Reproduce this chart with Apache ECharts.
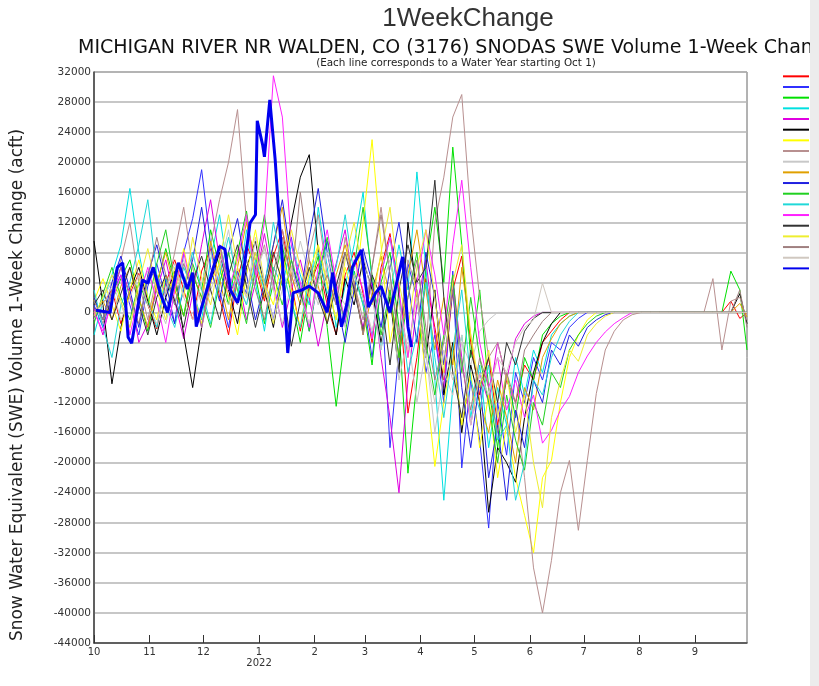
<!DOCTYPE html>
<html><head><meta charset="utf-8">
<script src="https://cdn.jsdelivr.net/npm/echarts@6/dist/echarts.min.js"></script>
<style>html,body{margin:0;padding:0;background:#fff;overflow:hidden}#c{width:819px;height:686px}</style>
</head><body><div id="c"></div><script>
// day offsets from Oct 1 of the water year
const days = [0,5,10,15,20,25,30,35,40,45,50,55,60,65,70,75,80,85,90,95,100,105,110,115,120,125,130,135,140,145,150,155,160,165,170,175,180,185,190,195,200,205,210,215,220,225,230,235,240,245,250,255,260,265,270,275,280,285,290,295,300,305,310,315,320,325,330,335,340,345,350,355,360,364];

const wy2004 = [0,1200,3000,-1500,2500,5200,1000,-2200,4000,7000, 3000,-1000,5500,8500,2000,-3000,4500,9000,6000,1500, 7500,11000,4000,-2500,3500,6500,1000,-3000,5000,8000, 2500,-4000,6000,10500,3000,-13400,-6000,4500,-2000,-9000, 3000,7500,-4000,-11000,-6000,-15000,-9000,-12000,-7000,-9000, -4000,-2500,-1000,0,0,0,0,0,0,0, 0,0,0,0,0,0,0,0,0,0, 0,1500,-800,0];
const wy2005 = [1000,-2000,2500,5000,1000,-3000,3500,6500,2000,-1500, 8000,12500,19000,9000,3000,-2000,5500,2500,8000,4000, -1000,6000,10000,3000,-2500,4500,9500,3000,-1500,5000, 2000,-6000,3500,-18000,-5000,6500,2000,-8000,-3000,-12000, 5500,-20700,-9000,-17000,-28700,-12000,-19000,-8000,-12000,-6000, -9000,-4000,-5000,-2000,-800,0,0,0,0,0, 0,0,0,0,0,0,0,0,0,0, 0,0,0,0];
const wy2006 = [2000,-1000,1500,4500,7000,2000,-2500,3500,8500,4000, -500,6500,3000,11000,6000,1000,8000,13500,5000,-1500, 4000,9000,2000,-4000,3000,7500,-2000,-12500,-3000,5500, 1000,-7000,4000,8000,-2000,-21400,-9000,6000,14000,4000, 22000,9000,-6000,3000,-10000,-18000,-8000,-14000,-6000,-9000, -3000,-1500,-500,0,0,0,0,0,0,0, 0,0,0,0,0,0,0,0,0,0, 0,5500,3000,-5000];
const wy2007 = [-3000,1500,5000,9000,16500,8000,2000,-2000,4500,1000, 6000,3000,-1000,7000,13000,5000,2000,11000,4000,-2500, 6000,3500,9000,5000,1000,14000,6000,-2000,3500,9000, 16000,4000,-5000,2500,9000,3000,18700,6000,-9000,-25000, -10000,-3000,-14000,-7000,-18000,-10000,-15000,-6000,-11000,-5000, -8000,-3000,-1500,-500,0,0,0,0,0,0, 0,0,0,0,0,0,0,0,0,0, 0,0,0,0];
const wy2008 = [500,-3000,2000,6000,2500,-4000,-1500,3000,7000,1500, -3500,2500,9000,15000,7000,2000,5000,-1000,4000,10500, 4000,-2000,3000,7000,2000,-4500,1500,6500,11000,3000, -2000,4000,-6000,-14000,-24000,-9000,1000,7000,-3000,-10000, 4500,-6000,-15000,-8000,-12000,-4000,-9000,-3500,-1500,-500, 0,0,0,0,0,0,0,0,0,0, 0,0,0,0,0,0,0,0,0,0, 0,0,0,0];
const wy2009 = [9500,1000,-9500,-2000,3000,6000,1500,-3000,2000,5500, -3000,-10000,-2000,4000,8000,3000,-1500,6000,9500,3000, -2000,5000,12000,18000,21000,8000,2000,-3000,4500,1000, 7000,3000,-4000,2000,-8000,12000,2500,-6000,3000,-11000, -4000,-16000,-7000,-12000,-26600,-18000,-20000,-22600,-14000,-8000, -4000,-1500,0,0,0,0,0,0,0,0, 0,0,0,0,0,0,0,0,0,0, 0,0,2500,-1500];
const wy2010 = [1500,4500,1000,-2500,3000,7000,2000,-1000,5000,2500, 8500,3000,-1500,4000,6500,2000,-3000,5000,11000,4000, 1000,7500,3000,-2000,5500,9000,3500,-1000,6000,2000, 12000,23000,9000,-4000,2000,-6000,3000,-9000,-20500,-12000, -5000,-15000,-8000,-18000,-11000,-22000,-15000,-22000,-27000,-32000, -22000,-19700,-12000,-6000,-3000,-1000,0,0,0,0, 0,0,0,0,0,0,0,0,0,0, 0,0,0,0];
const wy2011 = [2000,-1500,3000,7000,12000,4000,-1000,5000,2500,8000, 14000,6000,1000,9000,15000,20000,27000,12000,5000,9000, 3000,11000,6000,2000,8000,13000,5000,1000,10000,4000, -1000,6000,14000,5000,-3000,7000,3000,-5000,12000,18000, 26000,29000,13000,2000,-6000,-4000,-9000,-12000,-22000,-34000, -40000,-33000,-24000,-19700,-29000,-19700,-10800,-5000,-2500,-1000, -300,0,0,0,0,0,0,0,0,4500, -5000,1500,2000,-1000];
const wy2012 = [-1000,2000,4000,1000,-2000,3000,5500,1500,-1500,3500, 7000,2000,-2000,3000,6000,11000,4000,1000,5000,8500, 3000,-1500,4000,9500,5000,1000,6500,3000,-2000,4500, 8000,2000,-5000,4000,-9000,-3000,-12000,-5000,-16000,-8000, -11000,-4000,-7000,-2500,-1000,0,0,0,0,0, 0,0,0,0,0,0,0,0,0,0, 0,0,0,0,0,0,0,0,0,0, 0,0,0,0];
const wy2013 = [0,1500,-1000,3500,6000,2000,-2000,4000,8000,3000, -500,5000,2000,9500,4500,-1000,6000,12000,7000,2000, 9000,14000,5000,1000,7000,3500,-1500,5000,9000,4000, -3000,2500,7500,2000,-6000,5000,11000,3000,-5000,2000, -7000,6000,-3000,-12000,-16000,-9000,-14000,-20000,-10000,-13000, -6000,-3500,-1500,-500,0,0,0,0,0,0, 0,0,0,0,0,0,0,0,0,0, 0,0,1200,-600];
const wy2014 = [2000,-1000,4000,7500,3000,-2000,5000,9000,4000,-1500, 3000,7000,14000,6000,1500,8000,12500,5000,-1000,4000, 9000,15000,7000,2000,10000,16500,8000,2000,-4000,3000, 8500,4000,-2000,6000,12000,4000,-4000,8000,2000,-7000, 3000,-10000,-18000,-9000,-22000,-15000,-25000,-13000,-18000,-9000, -12000,-5000,-7000,-3000,-4500,-2000,-1000,-300,0,0, 0,0,0,0,0,0,0,0,0,0, 0,0,0,0];
const wy2015 = [-1500,2500,6000,2000,-1000,4000,1000,6500,11000,4000, -500,5000,2000,-2000,4000,8000,3000,-1500,6000,13000, 5000,1000,7000,3000,-2500,5000,10000,3000,-1000,6000, 14000,5000,-3000,3000,-6000,2000,8000,-4000,-11000,-3000, 5000,-8000,2000,-6000,-12000,-20000,-11000,-17000,-21000,-12000, -15000,-8000,-10000,-5000,-3000,-1500,-500,0,0,0, 0,0,0,0,0,0,0,0,0,0, 0,0,0,0];
const wy2016 = [3000,-2000,-6000,1000,4000,9000,15000,5000,1000,-2000, 3500,8000,3000,-1500,5000,10000,4000,1000,7000,3000, 12000,6000,1000,-2000,4500,8000,2500,6000,13000,5000, 1000,-3000,5000,10000,2000,-8000,-3000,4000,-6000,-14000, -5000,3000,-9000,-13000,-7000,-17000,-15000,-25000,-20000,-9000, -11000,-6000,-3000,-1200,0,0,0,0,0,0, 0,0,0,0,0,0,0,0,0,0, 0,0,0,0];
const wy2017 = [0,-2500,1500,5000,-3000,2000,6000,1500,-4000,3000, 8000,2500,-2000,4500,9000,3000,7000,13000,5000,12000, 31500,26000,9000,4000,-2000,6000,11000,4000,-1000,7000, 3000,-3500,5000,10000,3000,-6000,4000,11000,5000,-3000, 9000,17600,6000,-4000,-10000,-6000,-13000,-9000,-14000,-11000, -17400,-15700,-13000,-11200,-8000,-5800,-4000,-2600,-1500,-700, 0,0,0,0,0,0,0,0,0,0, 0,0,0,0];
const wy2018 = [1000,3000,-1000,2500,6000,1000,-3000,2000,5000,1500, -2000,4000,7500,3000,-1000,5000,9000,3500,-2000,3000, 8000,4000,-4500,1500,6000,2000,-1500,3500,8000,3000, -2500,5000,2000,-7000,3000,9000,4000,6000,17600,2000, -8000,-14000,-5000,-10000,-6000,-12000,-4000,-7000,-2500,-800, 0,0,0,0,0,0,0,0,0,0, 0,0,0,0,0,0,0,0,0,0, 0,0,0,0];
const wy2019 = [-500,2000,5000,1500,-2000,4000,8500,3000,-1000,6000, 2000,10000,4500,1000,7000,13000,6000,2000,8000,3500, -1500,5000,11000,6000,2000,9000,4000,-1000,7000,12000, 5000,1000,8000,14000,4000,-2000,6000,11000,2000,-8000, 4000,9000,-3000,-10000,-5000,-14000,-8000,-16000,-11000,-20000, -26000,-14000,-9000,-5000,-6500,-3000,-1500,-500,0,0, 0,0,0,0,0,0,0,0,0,0, 0,0,0,0];
const wy2020 = [1500,-1000,3000,6000,2000,-1500,4500,10000,5000,1000, 6500,3000,-2000,5000,9000,4000,1000,7000,3000,-1000, 5500,10000,4000,16000,7000,2000,5000,1000,8000,4000, -3000,6000,13000,5000,-4000,2000,7000,-2000,-9000,-4000, 3000,-7000,-13000,-6000,-10000,-16000,-8000,-12000,-5000,-3000, -1200,0,0,0,0,0,0,0,0,0, 0,0,0,0,0,0,0,0,0,0, 0,0,3000,-2000];
const wy2021 = [0,1000,3500,-1000,2000,5000,1000,-1500,3000,6500, 2000,-1000,4000,8000,3000,1000,5000,2000,10000,4000, -1000,3000,6000,2000,-1500,4000,8000,3000,1000,5000, 2000,-2500,3000,7000,1000,-5000,2000,-6000,-12000,-5000, -9000,-3000,-15000,-8000,-11000,-6000,-8000,-4000,-2000,-1000, 3900,0,0,0,0,0,0,0,0,0, 0,0,0,0,0,0,0,0,0,0, 0,0,0,0];

// current water year (thick line), traced in more detail
const days2022 = [1,9,13,16,19,21,27,30,33,37,41,47,52,55,57,60,65,70,73,76,80,82,87,90,91,94,95,98,101,103,105,108,111,116,120,125,130,133,138,141,144,149,153,157,160,165,172,175,177];
const wy2022 = [300,0,6000,6600,-3300,-4100,4300,3900,6000,2500,0,6600,3100,5300,-1900,700,4700,8800,8400,3000,1300,3000,11900,13000,25500,22300,20700,28300,20300,13000,7000,-5400,2600,3000,3500,2600,0,5300,-1900,1200,6000,8300,700,2600,3500,0,7400,-1900,-4600];

const yearNames = ['2004','2005','2006','2007','2008','2009','2010','2011','2012','2013','2014','2015','2016','2017','2018','2019','2020','2021','2022'];
const pastYears = [wy2004,wy2005,wy2006,wy2007,wy2008,wy2009,wy2010,wy2011,wy2012,wy2013,wy2014,wy2015,wy2016,wy2017,wy2018,wy2019,wy2020,wy2021];
const colors = ['#ff0000','#3030ff','#00e000','#00e0e0','#e000e0','#000000','#ffff00','#b89090','#c8c8c8','#e0a000',
                '#2020e0','#20d020','#20d8d8','#ff20ff','#333333','#eeee30','#a08080','#d0c8c0','#0000ee'];

function toTime(d){ return new Date(2021, 9, 1 + d).getTime(); }

const series = pastYears.map((vals, i) => ({
  name: yearNames[i], type: 'line', showSymbol: false, symbol: 'none',
  lineStyle: { width: 1, color: colors[i] }, itemStyle: { color: colors[i] },
  data: days.map((d, k) => [toTime(d), vals[k]]), z: 2
}));
series.push({
  name: yearNames[18], type: 'line', showSymbol: false, symbol: 'none',
  lineStyle: { width: 3, color: colors[18] }, itemStyle: { color: colors[18] },
  data: days2022.map((d, k) => [toTime(d), wy2022[k]]), z: 3
});

const chart = echarts.init(document.getElementById('c'), null, { renderer: 'canvas' });
chart.setOption({
  animation: false,
  backgroundColor: '#ffffff',
  color: colors,
  title: [
    { text: '1WeekChange', left: 468, top: 6, padding: 0, textAlign: 'center',
      textStyle: { fontFamily: 'Liberation Sans', fontSize: 26, fontWeight: 'normal', color: '#333' } },
    { text: 'MICHIGAN RIVER NR WALDEN, CO (3176) SNODAS SWE Volume 1-Week Change', left: 78, top: 39, padding: 0,
      textStyle: { fontFamily: 'DejaVu Sans', fontSize: 19, fontWeight: 'normal', color: '#111' } },
    { text: '(Each line corresponds to a Water Year starting Oct 1)', left: 456, top: 58, padding: 0, textAlign: 'center',
      textStyle: { fontFamily: 'DejaVu Sans', fontSize: 10.4, fontWeight: 'normal', color: '#222' } }
  ],
  legend: {
    orient: 'vertical', left: 783, top: 72, padding: 0, itemWidth: 26, itemHeight: 2, itemGap: 2,
    icon: 'rect',
    data: yearNames, textStyle: { fontSize: 7, lineHeight: 8.67, color: '#333' }
  },
  grid: { left: 94, right: 72, top: 72, bottom: 43, show: true, borderColor: '#666', borderWidth: 1, backgroundColor: '#fff' },
  xAxis: {
    type: 'time', min: toTime(0), max: toTime(364), splitNumber: 12,
    axisLine: { onZero: false, lineStyle: { color: '#444', width: 1.5 } },
    axisTick: { show: true, inside: true, length: 8, lineStyle: { color: '#333' } },
    splitLine: { show: false },
    axisLabel: {
      showMaxLabel: false, margin: 4, fontSize: 10, fontFamily: 'DejaVu Sans', color: '#333', lineHeight: 11,
      formatter: function (v) { const m = new Date(v).getMonth() + 1; return m === 1 ? '1\n2022' : String(m); }
    }
  },
  yAxis: {
    type: 'value', min: -44000, max: 32000, interval: 4000,
    axisLine: { show: true, lineStyle: { color: '#444', width: 1.5 } },
    axisTick: { show: false },
    axisLabel: { fontSize: 10.5, fontFamily: 'DejaVu Sans', color: '#333', margin: 3,
      formatter: function (v) { return String(v); } },
    splitLine: { lineStyle: { color: '#b4b4b4', width: 1.5 } }
  },
  graphic: [
    { type: 'text', x: 18, y: 385, rotation: Math.PI / 2, z: 50,
      style: { text: 'Snow Water Equivalent (SWE) Volume 1-Week Change (acft)', fontFamily: 'DejaVu Sans', fontSize: 17,
               fill: '#222', textAlign: 'center', textVerticalAlign: 'middle' } },
    { type: 'rect', x: 810, y: 0, shape: { width: 9, height: 686 }, style: { fill: '#ececec' }, z: 100 }
  ],
  series: series
});
</script></body></html>
